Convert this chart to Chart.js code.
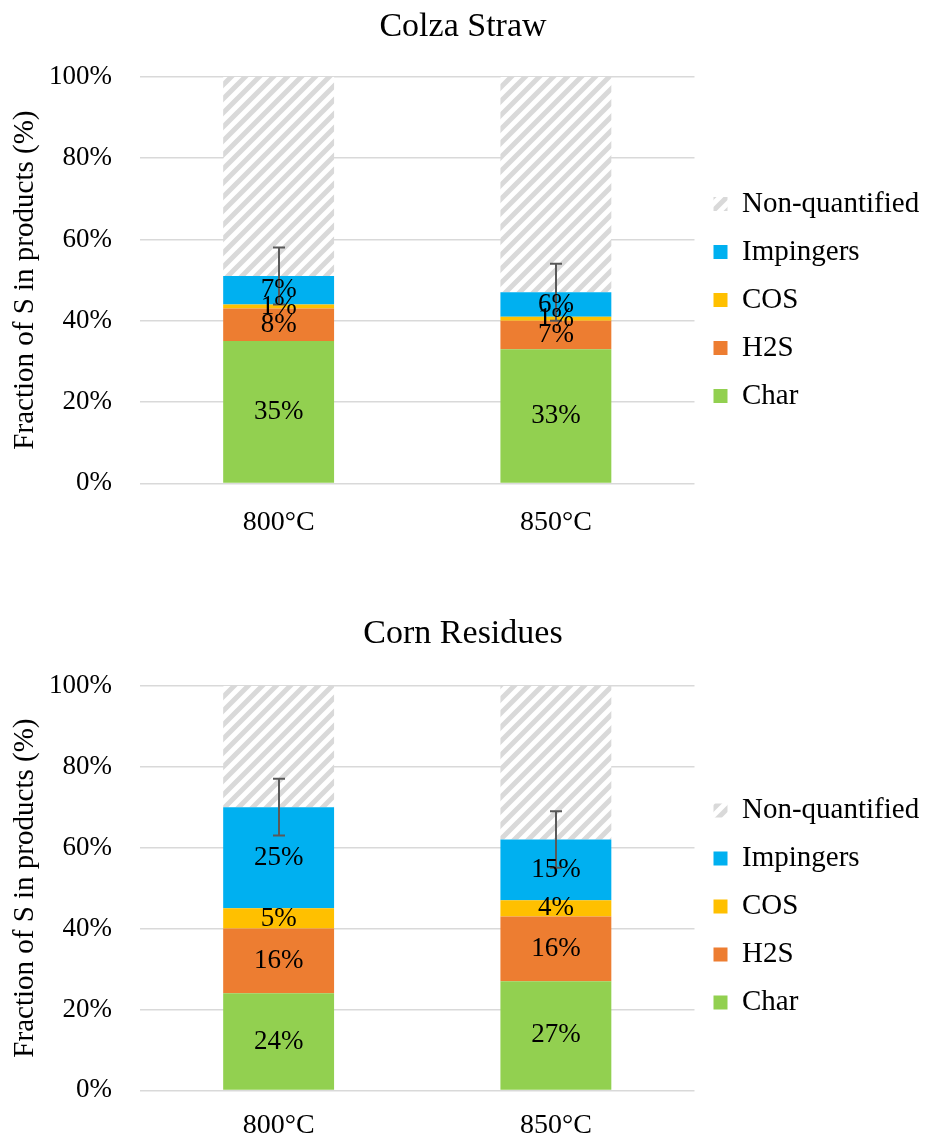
<!DOCTYPE html>
<html>
<head>
<meta charset="utf-8">
<script src="https://cdn.jsdelivr.net/npm/chart.js@4.4.1/dist/chart.umd.min.js"></script>
<style>
  html, body { margin: 0; padding: 0; background: #fff; }
  .panel { position: relative; width: 932px; height: 570px; }
  .panel.low { height: 590px; }
</style>
</head>
<body>
<div class="panel"><canvas id="colza"></canvas></div>
<div class="panel low"><canvas id="corn"></canvas></div>
<script>
const temperatures = ['800°C', '850°C'];
const seriesNames = ['Char', 'H2S', 'COS', 'Impingers', 'Non-quantified'];
const seriesColors = ['#92d050', '#ed7d31', '#ffc000', '#00b0f0'];
const yTicks = [0, 20, 40, 60, 80, 100];

// Colza straw (% of S)
const colzaChar = [35, 33];
const colzaH2S = [8, 7];
const colzaCOS = [1, 1];
const colzaImpingers = [7, 6];
const colzaRest = [49, 53];
const colzaError = [7, 7];

// Corn residues (% of S)
const cornChar = [24, 27];
const cornH2S = [16, 16];
const cornCOS = [5, 4];
const cornImpingers = [25, 15];
const cornRest = [30, 38];
const cornError = [7, 7];

const SERIF = '"Liberation Serif", "Times New Roman", serif';
Chart.defaults.font.family = SERIF;
Chart.defaults.color = '#000';

// light grey diagonal stripes for the non-quantified part
function hatch() {
  const c = document.createElement('canvas');
  c.width = c.height = 14;
  const g = c.getContext('2d');
  g.fillStyle = '#fff';
  g.fillRect(0, 0, 14, 14);
  g.strokeStyle = '#d9d9d9';
  g.lineWidth = 5;
  g.beginPath();
  g.moveTo(-7, 7); g.lineTo(7, -7);
  g.moveTo(0, 14); g.lineTo(14, 0);
  g.moveTo(7, 21); g.lineTo(21, 7);
  g.stroke();
  return g.createPattern(c, 'repeat');
}

// value labels centred in each coloured segment
const segmentLabels = {
  id: 'segmentLabels',
  afterDatasetsDraw(chart) {
    const ctx = chart.ctx;
    ctx.save();
    ctx.font = '27px ' + SERIF;
    ctx.fillStyle = '#000';
    ctx.textAlign = 'center';
    ctx.textBaseline = 'middle';
    chart.data.datasets.forEach((ds, i) => {
      if (ds.hatched) return;
      chart.getDatasetMeta(i).data.forEach((bar, j) => {
        const { x, y, base } = bar.getProps(['x', 'y', 'base'], true);
        ctx.fillText(ds.data[j] + '%', x, (y + base) / 2);
      });
    });
    ctx.restore();
  }
};

// +/- error on the quantified total
const errorBars = {
  id: 'errorBars',
  afterDatasetsDraw(chart, args, opts) {
    const { ctx, scales: { y } } = chart;
    const quantified = chart.data.datasets.filter(ds => !ds.hatched);
    const meta = chart.getDatasetMeta(0);
    ctx.save();
    ctx.strokeStyle = '#595959';
    ctx.lineWidth = 2;
    meta.data.forEach((bar, j) => {
      const total = quantified.reduce((s, ds) => s + ds.data[j], 0);
      const hi = y.getPixelForValue(total + opts.values[j]);
      const lo = y.getPixelForValue(total - opts.values[j]);
      const x = Math.round(bar.x);
      ctx.beginPath();
      ctx.moveTo(x, hi); ctx.lineTo(x, lo);
      ctx.moveTo(x - 6, hi); ctx.lineTo(x + 6, hi);
      ctx.moveTo(x - 6, lo); ctx.lineTo(x + 6, lo);
      ctx.stroke();
    });
    ctx.restore();
  }
};

function makeChart(id, title, parts, rest, errors, pad) {
  const datasets = parts.map((data, i) => ({
    label: seriesNames[i],
    data: data,
    backgroundColor: seriesColors[i]
  }));
  datasets.push({ label: seriesNames[4], data: rest, backgroundColor: hatch(), hatched: true });

  return new Chart(document.getElementById(id), {
    type: 'bar',
    data: { labels: temperatures, datasets: datasets },
    options: {
      responsive: true,
      maintainAspectRatio: false,
      animation: false,
      layout: { padding: { left: 0, right: 6, top: 0, bottom: pad.bottom } },
      datasets: { bar: { barPercentage: 0.4, categoryPercentage: 1 } },
      plugins: {
        title: {
          display: true,
          text: title,
          color: '#000',
          font: { size: 34, weight: 'normal' },
          padding: { top: pad.titleTop, bottom: pad.titleBottom }
        },
        legend: {
          position: 'right',
          reverse: true,
          // empty title only pushes the entries down a little
          title: { display: true, text: '', font: { size: 10 }, padding: { top: pad.legendDrop, bottom: 0 } },
          labels: { boxWidth: 14, boxHeight: 14, padding: 19, font: { size: 29 }, color: '#000' }
        },
        tooltip: { enabled: false },
        errorBars: { values: errors }
      },
      scales: {
        x: {
          stacked: true,
          grid: { display: false, drawTicks: false },
          border: { display: false },
          ticks: { font: { size: 28 }, padding: pad.xTick, maxRotation: 0 }
        },
        y: {
          stacked: true,
          min: 0,
          max: 100,
          afterFit: scale => { scale.width = 140; },
          afterBuildTicks: scale => { scale.ticks = yTicks.map(v => ({ value: v })); },
          grid: { color: '#d9d9d9', lineWidth: 1.5, drawTicks: false },
          border: { display: false },
          ticks: { font: { size: 27 }, padding: 28, callback: v => v + '%' },
          title: {
            display: true,
            text: 'Fraction of S in products (%)',
            font: { size: 29 },
            padding: { top: 8, bottom: 0 }
          }
        }
      }
    },
    plugins: [errorBars, segmentLabels]
  });
}

makeChart('colza', 'Colza Straw',
  [colzaChar, colzaH2S, colzaCOS, colzaImpingers], colzaRest, colzaError,
  { titleTop: 7, titleBottom: 29, xTick: 22, bottom: 9, legendDrop: 27 });

makeChart('corn', 'Corn Residues',
  [cornChar, cornH2S, cornCOS, cornImpingers], cornRest, cornError,
  { titleTop: 44, titleBottom: 31, xTick: 18, bottom: 0, legendDrop: 71 });
</script>
</body>
</html>
